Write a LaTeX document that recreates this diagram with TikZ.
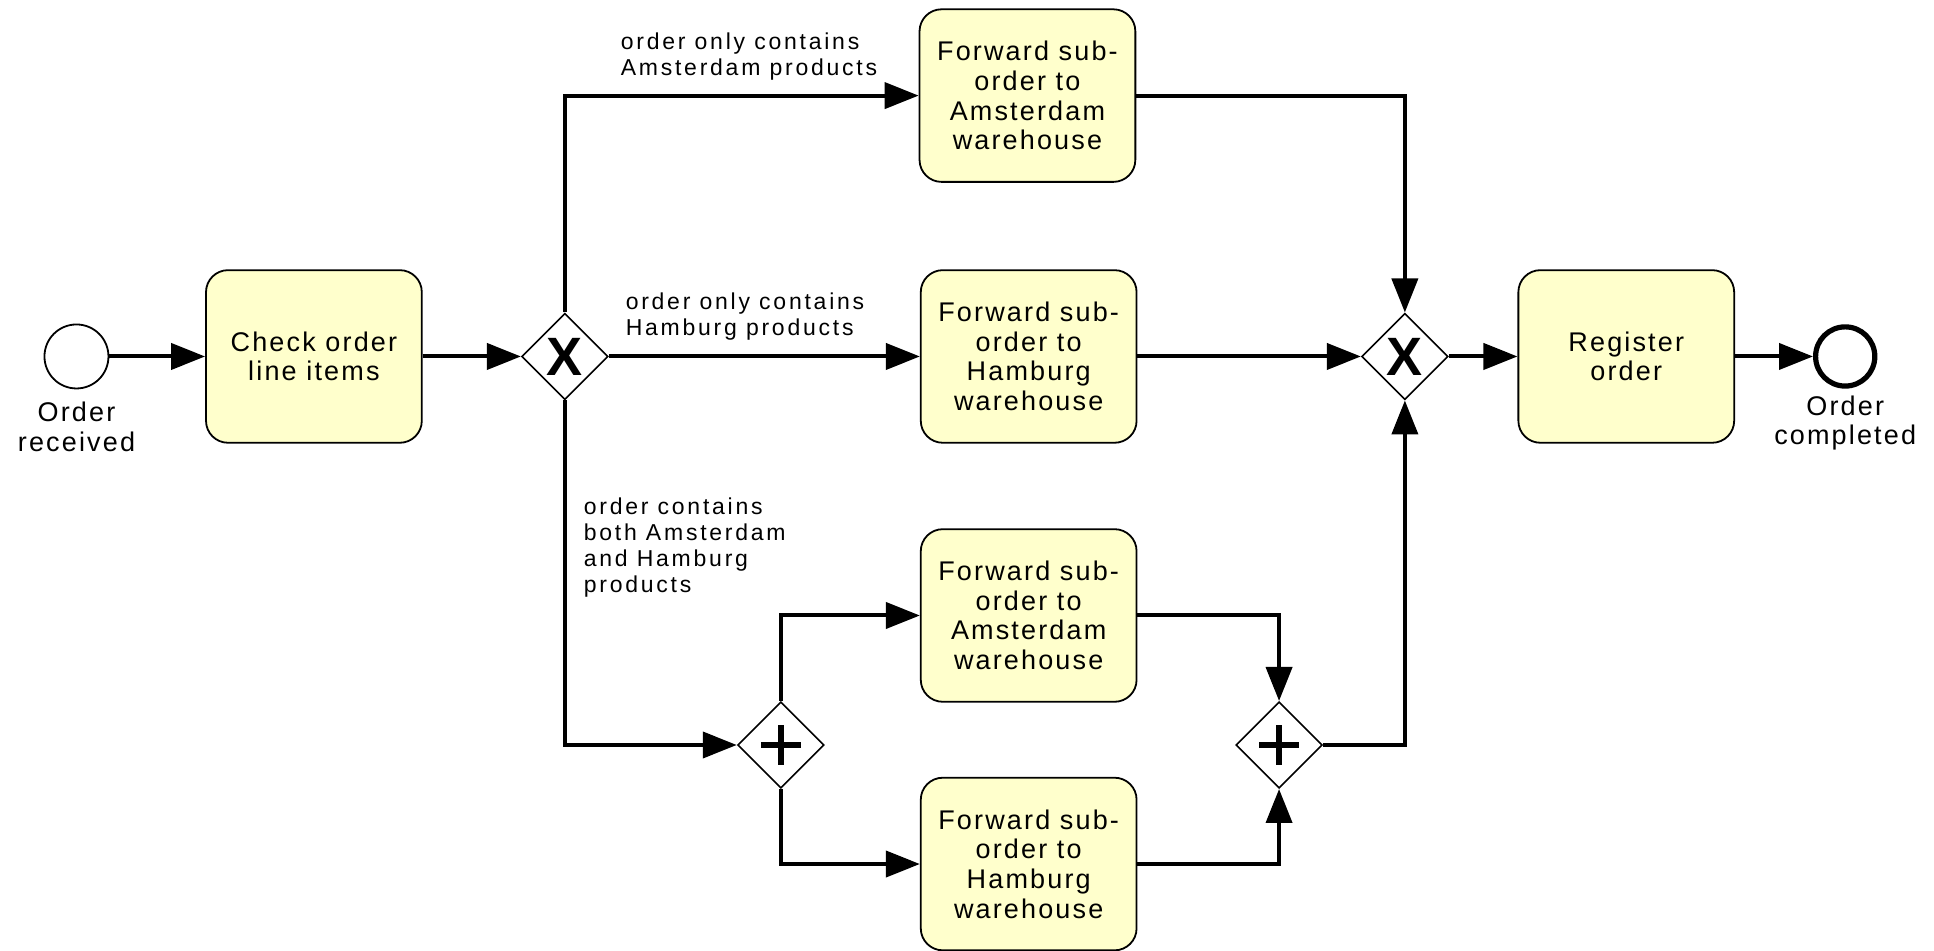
\documentclass[tikz,border=0pt]{standalone}
\usepackage{fontspec}
\setmainfont{Liberation Sans}
\newfontfamily\taskfont[LetterSpace=8]{Liberation Sans}
\newfontfamily\lblfont[LetterSpace=12]{Liberation Sans}
\newfontfamily\gwfont{Liberation Sans Bold}
\usetikzlibrary{shapes.geometric,arrows.meta}
\definecolor{taskfill}{RGB}{255,255,204}
\newcommand{\gwx}{{\gwfont\fontsize{27}{27}\selectfont X}}
\begin{document}
\begin{tikzpicture}[x=0.6167pt,y=-0.6167pt,
  task/.style={draw, line width=0.9pt, fill=taskfill, rounded corners=11pt,
    minimum width=107.9pt, minimum height=86.3pt, align=center, inner sep=0pt,
    font=\taskfont\fontsize{13.5}{14.8}\selectfont},
  gw/.style={diamond, draw, line width=0.8pt, fill=white, minimum width=43.2pt,
    minimum height=43.2pt, inner sep=0pt, aspect=1},
  flow/.style={line width=2pt, -{Triangle[length=17pt,width=13pt]}},
  lbl/.style={align=left, anchor=west, inner sep=0pt,
    font=\lblfont\fontsize{11.5}{13}\selectfont},
  evlbl/.style={align=center, inner sep=0pt,
    font=\taskfont\fontsize{13.5}{14.8}\selectfont},
  plusbar/.style={line width=3pt}
]
\fill[white] (0,0) rectangle (1568,771);
\useasboundingbox (0,0) rectangle (1568,771);

% events
\node[circle, draw, line width=0.9pt, minimum size=32pt, inner sep=0pt] (start) at (62,289) {};
\node[circle, draw, line width=2.6pt, minimum size=29.6pt, inner sep=0pt] (end) at (1496,289) {};
\node[evlbl] (evs) at (62,346) {Order\\received};
\node[evlbl] (eve) at (1496,343) {Order\\completed};

% tasks
\node[task] (check) at (254.5,289) {Check order\\line items};
\node[task] (t1) at (833,77.5) {Forward sub-\\order to\\Amsterdam\\warehouse};
\node[task] (h1) at (834,289) {Forward sub-\\order to\\Hamburg\\warehouse};
\node[task] (a2) at (834,499) {Forward sub-\\order to\\Amsterdam\\warehouse};
\node[task] (h2) at (834,700.5) {Forward sub-\\order to\\Hamburg\\warehouse};
\node[task] (reg) at (1318.5,289) {Register\\order};

% gateways
\node[gw] (x1) at (458,289) {};
\node[gw] (x2) at (1139,289) {};
\node[inner sep=0pt] (x1m) at (x1.center) {\gwx};
\node[inner sep=0pt] (x2m) at (x2.center) {\gwx};
\node[gw] (p1) at (633,604) {};
\node[gw] (p2) at (1037,604) {};
\foreach \g in {p1,p2}{
  \draw[plusbar] ([xshift=-10pt]\g.center) -- ([xshift=10pt]\g.center);
  \draw[plusbar] ([yshift=-10pt]\g.center) -- ([yshift=10pt]\g.center);
}

% labels
\node[lbl] (l1) at (503,45.5) {order only contains\\Amsterdam products};
\node[lbl] (l2) at (507,256.5) {order only contains\\Hamburg products};
\node[lbl] (l3) at (473,444) {order contains\\both Amsterdam\\and Hamburg\\products};

% flows
\draw[flow] (start) -- (check);
\draw[flow] (check) -- (x1);
\draw[flow] (x1.north) |- (t1.west);
\draw[flow] (x1.east) -- (h1.west);
\draw[flow] (x1.south) |- (p1.west);
\draw[flow] (p1.north) |- (a2.west);
\draw[flow] (p1.south) |- (h2.west);
\draw[flow] (a2.east) -| (p2.north);
\draw[flow] (h2.east) -| (p2.south);
\draw[flow] (p2.east) -| (x2.south);
\draw[flow] (t1.east) -| (x2.north);
\draw[flow] (h1.east) -- (x2.west);
\draw[flow] (x2.east) -- (reg.west);
\draw[flow] (reg.east) -- (end.west);
\end{tikzpicture}
\end{document}
